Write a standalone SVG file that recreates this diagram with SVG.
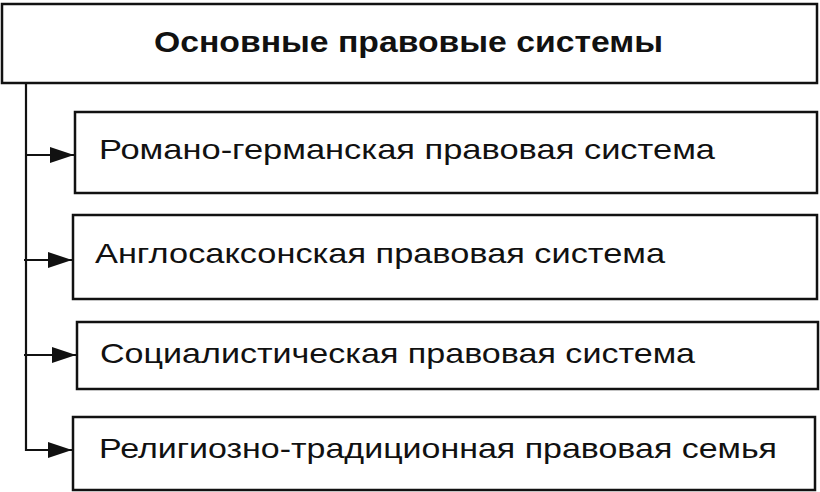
<svg xmlns="http://www.w3.org/2000/svg" width="820" height="492" viewBox="0 0 820 492">
<style>
.box{fill:#fff;stroke:#111;stroke-width:2.5}
.t{font-family:"Liberation Sans",Arial,sans-serif;font-size:28px;fill:#111}
.title{font-weight:bold;font-size:30px}
.c{fill:none;stroke:#111;stroke-width:2.2}
</style>
<defs>
<marker id="ah" markerUnits="userSpaceOnUse" markerWidth="26" markerHeight="18" refX="24" refY="8" orient="auto">
<path d="M0,0 L24,8 L0,16 Z" fill="#111"/>
</marker>
</defs>
<rect width="820" height="492" fill="#fff"/>
<g id="root">
<rect class="box" x="2" y="4" width="815" height="79"/>
<text class="t title" x="154" y="52" textLength="509" lengthAdjust="spacingAndGlyphs">Основные правовые системы</text>
</g>
<g id="n1">
<rect class="box" x="75" y="112" width="742" height="81"/>
<text class="t" x="99" y="159" textLength="616" lengthAdjust="spacingAndGlyphs">Романо-германская правовая система</text>
</g>
<g id="n2">
<rect class="box" x="73" y="215" width="744" height="84"/>
<text class="t" x="95" y="263" textLength="570" lengthAdjust="spacingAndGlyphs">Англосаксонская правовая система</text>
</g>
<g id="n3">
<rect class="box" x="77" y="322" width="741" height="67"/>
<text class="t" x="100" y="363" textLength="595" lengthAdjust="spacingAndGlyphs">Социалистическая правовая система</text>
</g>
<g id="n4">
<rect class="box" x="73" y="417" width="742" height="73"/>
<text class="t" x="99" y="458" textLength="678" lengthAdjust="spacingAndGlyphs">Религиозно-традиционная правовая семья</text>
</g>
<g id="connectors">
<path class="c" d="M26,83 V451"/>
<path class="c" d="M26,155 H74" marker-end="url(#ah)"/>
<path class="c" d="M24,260 H72" marker-end="url(#ah)"/>
<path class="c" d="M24,355 H76" marker-end="url(#ah)"/>
<path class="c" d="M25,450 H72" marker-end="url(#ah)"/>
</g>
</svg>
